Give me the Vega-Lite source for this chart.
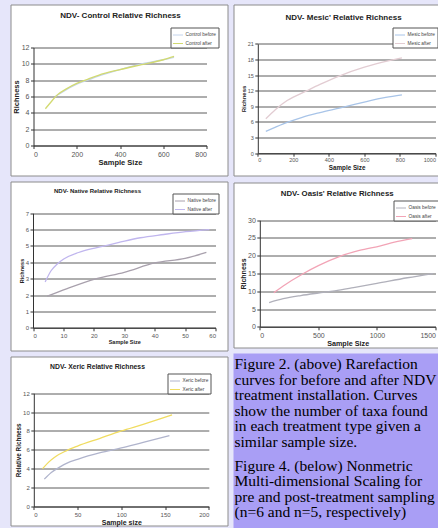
{
  "$schema": "https://vega.github.io/schema/vega-lite/v6.json",
  "padding": {"left": 9.5, "top": 3.5, "right": 0, "bottom": 0},
  "autosize": {"type": "pad"},
  "datasets": {
    "control": [
      {"s": "Control before", "n": 100, "r": 6.0}, {"s": "Control before", "n": 150, "r": 6.8}, {"s": "Control before", "n": 200, "r": 7.5}, {"s": "Control before", "n": 250, "r": 8.0}, {"s": "Control before", "n": 300, "r": 8.5}, {"s": "Control before", "n": 400, "r": 9.3}, {"s": "Control before", "n": 500, "r": 10.0}, {"s": "Control before", "n": 600, "r": 10.5}, {"s": "Control before", "n": 650, "r": 10.8},
      {"s": "Control after", "n": 55, "r": 4.5}, {"s": "Control after", "n": 80, "r": 5.3}, {"s": "Control after", "n": 110, "r": 6.2}, {"s": "Control after", "n": 150, "r": 6.9}, {"s": "Control after", "n": 200, "r": 7.6}, {"s": "Control after", "n": 250, "r": 8.1}, {"s": "Control after", "n": 300, "r": 8.6}, {"s": "Control after", "n": 400, "r": 9.3}, {"s": "Control after", "n": 500, "r": 9.9}, {"s": "Control after", "n": 600, "r": 10.5}, {"s": "Control after", "n": 650, "r": 10.9}
    ],
    "mesic": [
      {"s": "Mesic before", "n": 45, "r": 4.2}, {"s": "Mesic before", "n": 100, "r": 5.0}, {"s": "Mesic before", "n": 165, "r": 5.9}, {"s": "Mesic before", "n": 250, "r": 6.9}, {"s": "Mesic before", "n": 350, "r": 7.8}, {"s": "Mesic before", "n": 465, "r": 8.7}, {"s": "Mesic before", "n": 550, "r": 9.4}, {"s": "Mesic before", "n": 633, "r": 10.1}, {"s": "Mesic before", "n": 720, "r": 10.7}, {"s": "Mesic before", "n": 811, "r": 11.2},
      {"s": "Mesic after", "n": 45, "r": 6.6}, {"s": "Mesic after", "n": 100, "r": 8.4}, {"s": "Mesic after", "n": 165, "r": 10.1}, {"s": "Mesic after", "n": 277, "r": 12.0}, {"s": "Mesic after", "n": 350, "r": 13.2}, {"s": "Mesic after", "n": 465, "r": 14.9}, {"s": "Mesic after", "n": 600, "r": 16.5}, {"s": "Mesic after", "n": 745, "r": 17.8}, {"s": "Mesic after", "n": 811, "r": 18.3}
    ],
    "native": [
      {"s": "Native before", "n": 4.7, "r": 1.93}, {"s": "Native before", "n": 11, "r": 2.38}, {"s": "Native before", "n": 20.6, "r": 2.99}, {"s": "Native before", "n": 30, "r": 3.39}, {"s": "Native before", "n": 40, "r": 3.96}, {"s": "Native before", "n": 50, "r": 4.24}, {"s": "Native before", "n": 57, "r": 4.6},
      {"s": "Native after", "n": 4, "r": 2.8}, {"s": "Native after", "n": 6, "r": 3.5}, {"s": "Native after", "n": 8, "r": 3.9}, {"s": "Native after", "n": 10.1, "r": 4.2}, {"s": "Native after", "n": 15, "r": 4.6}, {"s": "Native after", "n": 21, "r": 4.9}, {"s": "Native after", "n": 28, "r": 5.2}, {"s": "Native after", "n": 35.3, "r": 5.5}, {"s": "Native after", "n": 43, "r": 5.7}, {"s": "Native after", "n": 50.2, "r": 5.87}, {"s": "Native after", "n": 58, "r": 6.0}
    ],
    "oasis": [
      {"s": "Oasis before", "n": 80, "r": 6.8}, {"s": "Oasis before", "n": 200, "r": 7.9}, {"s": "Oasis before", "n": 350, "r": 8.8}, {"s": "Oasis before", "n": 500, "r": 9.5}, {"s": "Oasis before", "n": 640, "r": 10.1}, {"s": "Oasis before", "n": 800, "r": 11.0}, {"s": "Oasis before", "n": 1000, "r": 12.2}, {"s": "Oasis before", "n": 1260, "r": 13.8}, {"s": "Oasis before", "n": 1480, "r": 15.0},
      {"s": "Oasis after", "n": 120, "r": 9.6}, {"s": "Oasis after", "n": 200, "r": 11.5}, {"s": "Oasis after", "n": 362, "r": 14.8}, {"s": "Oasis after", "n": 500, "r": 17.2}, {"s": "Oasis after", "n": 689, "r": 19.9}, {"s": "Oasis after", "n": 850, "r": 21.5}, {"s": "Oasis after", "n": 1031, "r": 22.8}, {"s": "Oasis after", "n": 1150, "r": 23.8}, {"s": "Oasis after", "n": 1301, "r": 24.8}
    ],
    "xeric": [
      {"s": "Xeric before", "n": 12, "r": 2.9}, {"s": "Xeric before", "n": 20, "r": 3.6}, {"s": "Xeric before", "n": 30, "r": 4.2}, {"s": "Xeric before", "n": 38, "r": 4.6}, {"s": "Xeric before", "n": 50, "r": 5.0}, {"s": "Xeric before", "n": 76, "r": 5.7}, {"s": "Xeric before", "n": 100, "r": 6.2}, {"s": "Xeric before", "n": 125, "r": 6.8}, {"s": "Xeric before", "n": 155, "r": 7.5},
      {"s": "Xeric after", "n": 10, "r": 4.0}, {"s": "Xeric after", "n": 17, "r": 4.7}, {"s": "Xeric after", "n": 25, "r": 5.3}, {"s": "Xeric after", "n": 37, "r": 5.9}, {"s": "Xeric after", "n": 50, "r": 6.4}, {"s": "Xeric after", "n": 75, "r": 7.2}, {"s": "Xeric after", "n": 100, "r": 8.0}, {"s": "Xeric after", "n": 125, "r": 8.7}, {"s": "Xeric after", "n": 158, "r": 9.7}
    ]
  },
  "spacing": 4,
  "resolve": {"scale": {"color": "independent"}, "legend": {"color": "independent"}},
  "hconcat": [
    {
      "spacing": 4,
      "resolve": {"scale": {"color": "independent"}, "legend": {"color": "independent"}},
      "vconcat": [
        {
          "width": 217, "height": 171,
          "data": {"name": "control"},
          "title": {"text": "NDV- Control Relative Richness", "orient": "top", "anchor": "middle", "offset": -15.5, "dx": 1.5, "fontSize": 8},
          "mark": {"type": "line", "interpolate": "monotone", "strokeWidth": 1.3},
          "encoding": {
            "x": {"field": "n", "type": "quantitative", "scale": {"domain": [0, 800], "range": [23, 196], "nice": false},
                  "axis": {"values": [0, 200, 400, 600, 800], "offset": -30, "title": "Sample Size", "grid": false, "labelFontSize": 7, "titleFontSize": 7.5}},
            "y": {"field": "r", "type": "quantitative", "scale": {"domain": [0, 12], "range": [141, 43], "nice": false},
                  "axis": {"values": [0, 2, 4, 6, 8, 10, 12], "offset": -23, "title": "Richness", "grid": true, "labelFontSize": 7, "titleFontSize": 7.5}},
            "color": {"field": "s", "type": "nominal", "scale": {"domain": ["Control before", "Control after"], "range": ["#c4d4ec", "#d2da70"]},
                      "legend": {"title": null, "orient": "none", "legendX": 160, "legendY": 23}}
          }
        },
        {
          "width": 217, "height": 169,
          "data": {"name": "native"},
          "title": {"text": "NDV- Native Relative Richness", "orient": "top", "anchor": "middle", "offset": -12.5, "dx": -21.5, "fontSize": 6},
          "mark": {"type": "line", "interpolate": "monotone", "strokeWidth": 1.3},
          "encoding": {
            "x": {"field": "n", "type": "quantitative", "scale": {"domain": [0, 60], "range": [22.5, 205], "nice": false},
                  "axis": {"values": [0, 10, 20, 30, 40, 50, 60], "offset": -22.7, "title": "Sample Size", "grid": false, "labelFontSize": 6, "titleFontSize": 5.5}},
            "y": {"field": "r", "type": "quantitative", "scale": {"domain": [0, 7], "range": [146.3, 31.7], "nice": false},
                  "axis": {"values": [0, 1, 2, 3, 4, 5, 6, 7], "offset": -22.5, "title": "Richness", "grid": true, "labelFontSize": 6, "titleFontSize": 5.5}},
            "color": {"field": "s", "type": "nominal", "scale": {"domain": ["Native before", "Native after"], "range": ["#a8a0ac", "#c0b6ee"]},
                      "legend": {"title": null, "orient": "none", "legendX": 162, "legendY": 12}}
          }
        },
        {
          "width": 217, "height": 169,
          "data": {"name": "xeric"},
          "title": {"text": "NDV- Xeric Relative Richness", "orient": "top", "anchor": "middle", "offset": -13.9, "dx": -21.5, "fontSize": 6.8},
          "mark": {"type": "line", "interpolate": "monotone", "strokeWidth": 1.3},
          "encoding": {
            "x": {"field": "n", "type": "quantitative", "scale": {"domain": [0, 200], "range": [23.3, 198.3], "nice": false},
                  "axis": {"values": [0, 50, 100, 150, 200], "offset": -19, "title": "Sample size", "grid": false, "labelFontSize": 6, "titleFontSize": 7}},
            "y": {"field": "r", "type": "quantitative", "scale": {"domain": [0, 12], "range": [150, 36.7], "nice": false},
                  "axis": {"values": [0, 2, 4, 6, 8, 10, 12], "offset": -23.3, "title": "Relative Richness", "grid": true, "labelFontSize": 6, "titleFontSize": 6.3}},
            "color": {"field": "s", "type": "nominal", "scale": {"domain": ["Xeric before", "Xeric after"], "range": ["#b0b4cc", "#f0dc60"]},
                      "legend": {"title": null, "orient": "none", "legendX": 157, "legendY": 17}}
          }
        }
      ]
    },
    {
      "spacing": 5,
      "resolve": {"scale": {"color": "independent"}, "legend": {"color": "independent"}},
      "vconcat": [
        {
          "width": 205, "height": 171,
          "data": {"name": "mesic"},
          "title": {"text": "NDV- Mesic' Relative Richness", "orient": "top", "anchor": "middle", "offset": -17.5, "dx": 7.5, "fontSize": 8},
          "mark": {"type": "line", "interpolate": "monotone", "strokeWidth": 1.3},
          "encoding": {
            "x": {"field": "n", "type": "quantitative", "scale": {"domain": [0, 1000], "range": [24.3, 202], "nice": false},
                  "axis": {"values": [0, 200, 400, 600, 800, 1000], "format": "d", "labelFlush": true, "offset": -22.3, "title": "Sample Size", "grid": false, "labelFontSize": 5.5, "titleFontSize": 6.3}},
            "y": {"field": "r", "type": "quantitative", "scale": {"domain": [0, 21], "range": [148.7, 39.3], "nice": false},
                  "axis": {"values": [0, 3, 6, 9, 12, 15, 18, 21], "offset": -24.3, "title": "Richness", "grid": true, "labelFontSize": 5.5, "titleFontSize": 6}},
            "color": {"field": "s", "type": "nominal", "scale": {"domain": ["Mesic before", "Mesic after"], "range": ["#a8c4e8", "#e2ccd2"]},
                      "legend": {"title": null, "orient": "none", "legendX": 159, "legendY": 23}}
          }
        },
        {
          "width": 205, "height": 165,
          "data": {"name": "oasis"},
          "title": {"text": "NDV- Oasis' Relative Richness", "orient": "top", "anchor": "middle", "offset": -15.4, "dx": 1.2, "fontSize": 7.8},
          "mark": {"type": "line", "interpolate": "monotone", "strokeWidth": 1.3},
          "encoding": {
            "x": {"field": "n", "type": "quantitative", "scale": {"domain": [0, 1500], "range": [26.3, 202], "nice": false},
                  "axis": {"values": [0, 500, 1000, 1500], "format": "d", "labelFlush": true, "offset": -20.7, "title": "Sample Size", "grid": false, "labelFontSize": 7, "titleFontSize": 7.2}},
            "y": {"field": "r", "type": "quantitative", "scale": {"domain": [0, 30], "range": [144.3, 37.7], "nice": false},
                  "axis": {"values": [0, 5, 10, 15, 20, 25, 30], "offset": -26.3, "title": "Richness", "grid": true, "labelFontSize": 7, "titleFontSize": 7}},
            "color": {"field": "s", "type": "nominal", "scale": {"domain": ["Oasis before", "Oasis after"], "range": ["#b0b0ba", "#f2a4b6"]},
                      "legend": {"title": null, "orient": "none", "legendX": 160, "legendY": 18}}
          }
        },
        {
          "width": 205, "height": 176,
          "view": {"fill": "#a99ef5", "stroke": null},
          "data": {"values": []},
          "mark": "point",
          "title": {
            "text": ["Figure 2. (above) Rarefaction", "curves for before and after NDV", "treatment installation. Curves", "show the number of taxa found", "in each treatment type given a", "similar sample size."],
            "subtitle": ["Figure 4. (below) Nonmetric", "Multi-dimensional Scaling for", "pre and post-treatment sampling", "(n=6 and n=5, respectively)"],
            "orient": "bottom", "anchor": "start", "frame": "group", "offset": -172.5, "dx": 1,
            "font": "Liberation Serif", "fontSize": 15.5, "fontWeight": "normal", "color": "#000000", "lineHeight": 15.6,
            "subtitleFont": "Liberation Serif", "subtitleFontSize": 15.5, "subtitleColor": "#000000", "subtitleLineHeight": 15.6, "subtitlePadding": 8
          }
        }
      ]
    }
  ],
  "config": {
    "background": "#e6e6fa",
    "view": {"fill": "white", "stroke": "#8c8c8c", "strokeWidth": 1},
    "font": "Liberation Sans",
    "title": {"font": "Liberation Sans", "fontWeight": "bold", "color": "#222222"},
    "axis": {"domainColor": "#333333", "tickColor": "#333333", "tickSize": 3, "labelColor": "#555555", "labelFont": "Liberation Sans", "titleFont": "Liberation Sans", "titleFontWeight": "bold", "titleColor": "#222222", "gridColor": "#4a4a4a", "gridWidth": 0.9, "labelPadding": 1.5, "titlePadding": 1},
    "legend": {"labelFontSize": 4.8, "labelColor": "#444444", "labelFont": "Liberation Sans", "symbolType": "stroke", "symbolSize": 100, "symbolStrokeWidth": 1, "fillColor": "white", "strokeColor": "#555555", "padding": 2, "rowPadding": 0.5, "labelOffset": 2}
  }
}
